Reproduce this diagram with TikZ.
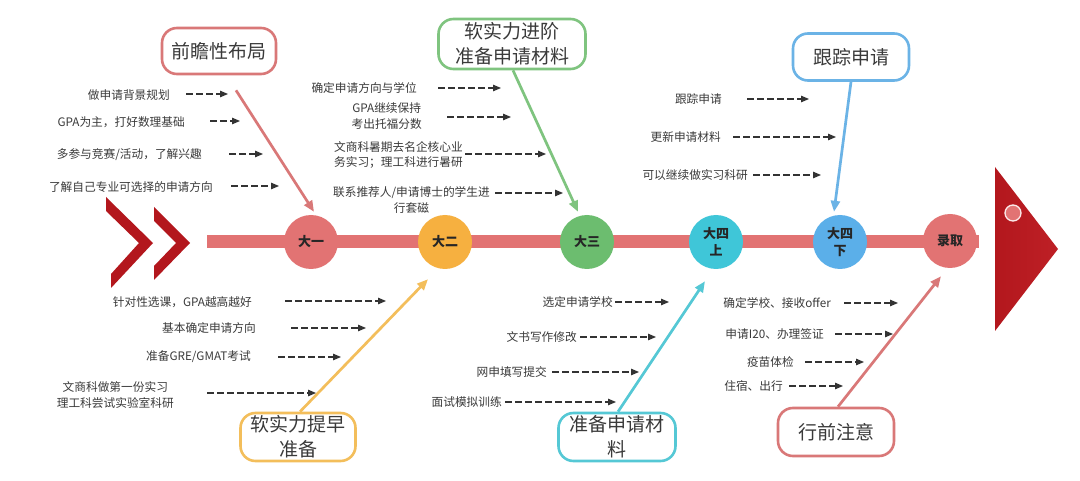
\documentclass[tikz,border=0pt]{standalone}
\usepackage{fontspec}
\newfontfamily\cjk{Noto Sans CJK SC}
\usetikzlibrary{arrows.meta}
\definecolor{salmon}{HTML}{E27373}
\definecolor{salmonb}{HTML}{D97878}
\definecolor{orng}{HTML}{F6B040}
\definecolor{orngb}{HTML}{F3BE5B}
\definecolor{grn}{HTML}{6CBD6F}
\definecolor{grnb}{HTML}{7FC47F}
\definecolor{cyn}{HTML}{3FC6D8}
\definecolor{cynb}{HTML}{55C8D5}
\definecolor{blu}{HTML}{5BAFE9}
\definecolor{blub}{HTML}{6BB3E6}
\definecolor{dred}{HTML}{B3171D}
\definecolor{dred2}{HTML}{BE2026}
\definecolor{txt}{HTML}{3A3A3A}
\begin{document}
\begin{tikzpicture}[x=1pt,y=-1pt,
  mile/.style={circle,minimum size=54pt,inner sep=0pt,align=center,
    font=\cjk\bfseries\fontsize{13}{17}\selectfont,text=black!85},
  callout/.style={rounded corners=15pt,draw,line width=2.6pt,fill=white,
    inner sep=0pt,align=center,font=\cjk\fontsize{19}{25}\selectfont,text=txt},
  lbl/.style={anchor=east,inner sep=0pt,align=center,
    font=\cjk\fontsize{11.7}{15.5}\selectfont,text=txt},
  dasharrow/.style={draw=black!80,line width=1.2pt,dash pattern=on 6.5pt off 3.5pt,
    -{Triangle[length=8pt,width=6.5pt]}},
  bigarrow/.style={line width=2.7pt,-{Triangle[length=11pt,width=9pt]}}]
\useasboundingbox (0,0) rectangle (1080,481);
\fill[white] (0,0) rectangle (1080,481);

% spine
\draw[salmon,line width=13pt] (207,242) -- (979,242);

% chevrons
\fill[dred] (106,197) -- (153,243) -- (111,288) -- (111,274) -- (139,243) -- (106,211) -- cycle;
\fill[dred] (154,207) -- (190,243) -- (154,280) -- (154,266) -- (176,243) -- (154,221) -- cycle;

% fish head
\shade[left color=dred,right color=dred2] (995,167) -- (1058,249) -- (995,331) -- cycle;
\node[circle,fill=salmon,draw=white!85!salmon,line width=1.3pt,minimum size=16pt,inner sep=0pt] (eye) at (1013,213) {};

% milestones
\node[mile,fill=salmon] (c1) at (311,242) {大一};
\node[mile,fill=orng] (c2) at (445,242) {大二};
\node[mile,fill=grn] (c3) at (587,242) {大三};
\node[mile,fill=cyn] (c4) at (716,242) {大四\\上};
\node[mile,fill=blu] (c5) at (840,242) {大四\\下};
\node[mile,fill=salmon] (c6) at (950,241) {录取};

% callouts
\node[callout,draw=salmonb,minimum width=114pt,minimum height=46pt] (b1) at (219,51) {前瞻性布局};
\node[callout,draw=grnb,minimum width=147pt,minimum height=50pt] (b2) at (512,44) {软实力进阶\\准备申请材料};
\node[callout,draw=blub,minimum width=116pt,minimum height=47pt] (b3) at (851,57) {跟踪申请};
\node[callout,draw=orngb,minimum width=115pt,minimum height=48pt] (b4) at (298,437) {软实力提早\\准备};
\node[callout,draw=cynb,minimum width=117pt,minimum height=48pt] (b5) at (617,437) {准备申请材\\料};
\node[callout,draw=salmonb,minimum width=116pt,minimum height=48pt] (b6) at (836,432) {行前注意};

% big arrows
\draw[bigarrow,salmonb] ([xshift=17pt,yshift=-15pt]b1.south) -- ([xshift=3pt,yshift=3pt]c1.north);
\draw[bigarrow,grnb] ([xshift=1pt]b2.south) -- ([xshift=-9pt,yshift=3pt]c3.north);
\draw[bigarrow,blub] (b3.south) -- ([xshift=-6pt,yshift=3pt]c5.north);
\draw[bigarrow,orngb] ([xshift=2pt]b4.north) -- ([xshift=-17pt,yshift=-10pt]c2.south);
\draw[bigarrow,cynb] ([xshift=1pt]b5.north) -- ([xshift=-11pt,yshift=-12pt]c4.south);
\draw[bigarrow,salmonb] ([xshift=2pt]b6.north) -- ([xshift=-9pt,yshift=-8pt]c6.south);

% upper left
\node[lbl] (l1) at (170,95) {做申请背景规划};
\node[lbl] (l2) at (185,122) {GPA为主，打好数理基础};
\node[lbl] (l3) at (202,155) {多参与竞赛/活动，了解兴趣};
\node[lbl] (l4) at (213,187) {了解自己专业可选择的申请方向};
\coordinate (l1s) at (186,94); \coordinate (l1e) at (228,94);
\coordinate (l2s) at (210,121); \coordinate (l2e) at (240,121);
\coordinate (l3s) at (229,154); \coordinate (l3e) at (263,154);
\coordinate (l4s) at (231,186); \coordinate (l4e) at (279,186);
\draw[dasharrow] (l1s) -- (l1e);
\draw[dasharrow] (l2s) -- (l2e);
\draw[dasharrow] (l3s) -- (l3e);
\draw[dasharrow] (l4s) -- (l4e);

% upper middle
\node[lbl] (m1) at (417,88) {确定申请方向与学位};
\node[lbl] (m2) at (422,116) {GPA继续保持\\考出托福分数};
\node[lbl] (m3) at (463,155) {文商科暑期去名企核心业\\务实习；理工科进行暑研};
\node[lbl] (m4) at (490,200) {联系推荐人/申请博士的学生进\\行套磁};
\coordinate (m1s) at (438,88); \coordinate (m1e) at (501,88);
\coordinate (m2s) at (447,117); \coordinate (m2e) at (511,117);
\coordinate (m3s) at (465,154); \coordinate (m3e) at (546,154);
\coordinate (m4s) at (495,193); \coordinate (m4e) at (563,193);
\draw[dasharrow] (m1s) -- (m1e);
\draw[dasharrow] (m2s) -- (m2e);
\draw[dasharrow] (m3s) -- (m3e);
\draw[dasharrow] (m4s) -- (m4e);

% upper right
\node[lbl] (r1) at (722,99) {跟踪申请};
\node[lbl] (r2) at (721,137) {更新申请材料};
\node[lbl] (r3) at (748,175) {可以继续做实习科研};
\coordinate (r1s) at (747,99); \coordinate (r1e) at (809,99);
\coordinate (r2s) at (733,137); \coordinate (r2e) at (836,137);
\coordinate (r3s) at (753,175); \coordinate (r3e) at (821,175);
\draw[dasharrow] (r1s) -- (r1e);
\draw[dasharrow] (r2s) -- (r2e);
\draw[dasharrow] (r3s) -- (r3e);

% lower left
\node[lbl] (n1) at (252,302) {针对性选课，GPA越高越好};
\node[lbl] (n2) at (256,328) {基本确定申请方向};
\node[lbl] (n3) at (251,357) {准备GRE/GMAT考试};
\node[lbl] (n4) at (174,395) {文商科做第一份实习\\理工科尝试实验室科研};
\coordinate (n1s) at (285,301); \coordinate (n1e) at (386,301);
\coordinate (n2s) at (291,328); \coordinate (n2e) at (366,328);
\coordinate (n3s) at (278,357); \coordinate (n3e) at (341,357);
\coordinate (n4s) at (207,393); \coordinate (n4e) at (316,393);
\draw[dasharrow] (n1s) -- (n1e);
\draw[dasharrow] (n2s) -- (n2e);
\draw[dasharrow] (n3s) -- (n3e);
\draw[dasharrow] (n4s) -- (n4e);

% lower middle
\node[lbl] (k1) at (613,302) {选定申请学校};
\node[lbl] (k2) at (577,337) {文书写作修改};
\node[lbl] (k3) at (547,372) {网申填写提交};
\node[lbl] (k4) at (502,402) {面试模拟训练};
\coordinate (k1s) at (615,302); \coordinate (k1e) at (669,302);
\coordinate (k2s) at (580,337); \coordinate (k2e) at (656,337);
\coordinate (k3s) at (552,372); \coordinate (k3e) at (639,372);
\coordinate (k4s) at (505,402); \coordinate (k4e) at (616,402);
\draw[dasharrow] (k1s) -- (k1e);
\draw[dasharrow] (k2s) -- (k2e);
\draw[dasharrow] (k3s) -- (k3e);
\draw[dasharrow] (k4s) -- (k4e);

% lower right
\node[lbl] (q1) at (831,303) {确定学校、接收offer};
\node[lbl] (q2) at (824,334) {申请I20、办理签证};
\node[lbl] (q3) at (794,362) {疫苗体检};
\node[lbl] (q4) at (783,386) {住宿、出行};
\coordinate (q1s) at (844,303); \coordinate (q1e) at (898,303);
\coordinate (q2s) at (835,334); \coordinate (q2e) at (893,334);
\coordinate (q3s) at (805,362); \coordinate (q3e) at (864,362);
\coordinate (q4s) at (789,386); \coordinate (q4e) at (843,386);
\draw[dasharrow] (q1s) -- (q1e);
\draw[dasharrow] (q2s) -- (q2e);
\draw[dasharrow] (q3s) -- (q3e);
\draw[dasharrow] (q4s) -- (q4e);
\end{tikzpicture}
\end{document}
